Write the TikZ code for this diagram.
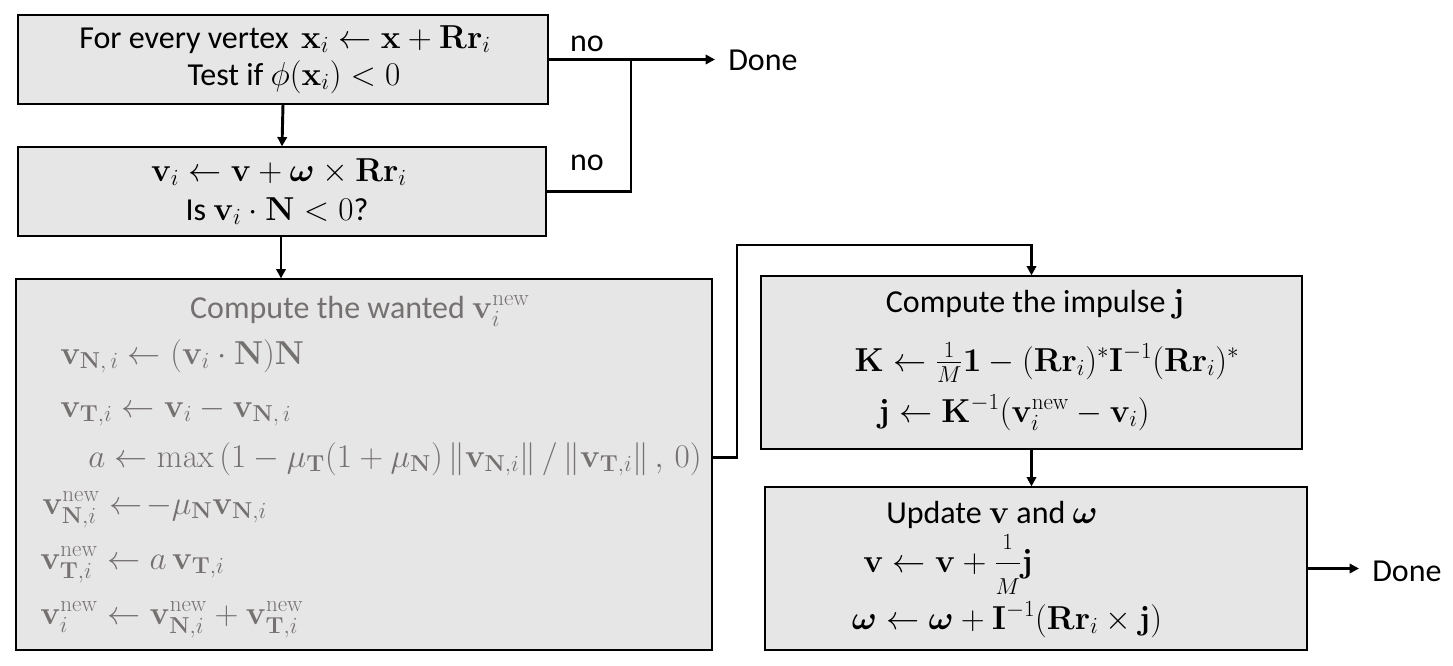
\documentclass[tikz,border=0pt]{standalone}
\usepackage{amsmath,bm}
\usepackage[no-math]{fontspec}
\setmainfont{Carlito}
\DeclareMathSizes{24}{25.5}{18.5}{14}
\DeclareMathSizes{22.5}{24}{17.5}{13}
\DeclareMathSizes{21.5}{23}{17}{12.5}
\usetikzlibrary{arrows.meta,calc}
\definecolor{boxfill}{HTML}{E7E6E6}
\definecolor{graytext}{HTML}{767171}
\begin{document}
\begin{tikzpicture}[x=0.75pt,y=-0.75pt,
  font=\fontsize{24}{28}\selectfont,
  box/.style={draw=black,line width=0.9pt,fill=boxfill,inner sep=0pt},
  txt/.style={inner sep=0pt,anchor=base west},
  ctxt/.style={inner sep=0pt,anchor=base},
  conn/.style={line width=2.2pt},
  arr/.style={line width=2.2pt,-{Triangle[length=7pt,width=7pt]}},
  lbl/.style={inner sep=0pt}]
\useasboundingbox (0,0) rectangle (1453,665);
% boxes
\node[box,minimum width={530*0.75pt},minimum height={89*0.75pt}] (b1) at (283,59.5) {};
\node[box,minimum width={528*0.75pt},minimum height={89*0.75pt}] (b2) at (282,191.5) {};
\node[box,minimum width={696*0.75pt},minimum height={371*0.75pt}] (b3) at (364,464.5) {};
\node[box,minimum width={541*0.75pt},minimum height={173*0.75pt}] (b4) at (1031.5,362.5) {};
\node[box,minimum width={542*0.75pt},minimum height={163*0.75pt}] (b5) at (1036,568.5) {};
% box 1 text
\node[ctxt] (t11) at (285,48) {For every vertex\, $\mathbf{x}_i \leftarrow \mathbf{x}+\mathbf{Rr}_i$};
\node[ctxt] (t12) at (294,85) {Test if $\phi(\mathbf{x}_i) < 0$};
% box 2 text
\node[ctxt] (t21) at (279,181) {$\mathbf{v}_i \leftarrow \mathbf{v}+\bm{\omega}\times\mathbf{Rr}_i$};
\node[ctxt] (t22) at (277,220) {Is $\mathbf{v}_i\cdot\mathbf{N} < 0$?};
% box 3 text
\begin{scope}[every node/.append style={text=graytext}]
\node[ctxt] (t30) at (360,318) {Compute the wanted $\mathbf{v}_i^{\mathrm{new}}$};
\node[txt] (t31) at (60,364) {$\mathbf{v}_{\mathbf{N},\,i} \leftarrow (\mathbf{v}_i\cdot\mathbf{N})\mathbf{N}$};
\node[txt] (t32) at (60,417) {$\mathbf{v}_{\mathbf{T},i} \leftarrow \mathbf{v}_i - \mathbf{v}_{\mathbf{N},\,i}$};
\node[txt,font=\fontsize{22.5}{27}\selectfont] (t33) at (88,467) {$a \leftarrow \max\left(1-\mu_{\mathbf{T}}(1+\mu_{\mathbf{N}})\left\|\mathbf{v}_{\mathbf{N},i}\right\|/\left\|\mathbf{v}_{\mathbf{T},i}\right\|,\,0\right)$};
\node[txt] (t34) at (42,514) {$\mathbf{v}_{\mathbf{N},i}^{\mathrm{new}} \leftarrow\!- \mu_{\mathbf{N}}\mathbf{v}_{\mathbf{N},i}$};
\node[txt] (t35) at (40,569) {$\mathbf{v}_{\mathbf{T},i}^{\mathrm{new}} \leftarrow a\,\mathbf{v}_{\mathbf{T},i}$};
\node[txt] (t36) at (40,624) {$\mathbf{v}_{i}^{\mathrm{new}} \leftarrow \mathbf{v}_{\mathbf{N},i}^{\mathrm{new}}+\mathbf{v}_{\mathbf{T},i}^{\mathrm{new}}$};
\end{scope}
% box 4 text
\node[ctxt] (t40) at (1035,312) {Compute the impulse $\mathbf{j}$};
\node[ctxt,font=\fontsize{21.5}{26}\selectfont] (t41) at (1047,371) {$\mathbf{K} \leftarrow \tfrac{1}{M}\mathbf{1} - (\mathbf{Rr}_i)^{*}\mathbf{I}^{-1}(\mathbf{Rr}_i)^{*}$};
\node[ctxt] (t42) at (1014,422) {$\mathbf{j} \leftarrow \mathbf{K}^{-1}(\mathbf{v}_i^{\mathrm{new}} - \mathbf{v}_i)$};
% box 5 text
\node[ctxt] (t50) at (992,523) {Update $\mathbf{v}$ and $\bm{\omega}$};
\node[ctxt] (t51) at (948,572) {$\mathbf{v} \leftarrow \mathbf{v}+\genfrac{}{}{}{0}{\scriptstyle 1}{\scriptstyle M}\mathbf{j}$};
\node[ctxt] (t52) at (1007,629) {$\bm{\omega} \leftarrow \bm{\omega}+\mathbf{I}^{-1}(\mathbf{Rr}_i\times\mathbf{j})$};
% outside labels
\node[lbl,anchor=west] (done1) at (728,60) {Done};
\node[lbl,anchor=west] (done2) at (1372,571) {Done};
\node[lbl] (no1) at (587,44) {no};
\node[lbl] (no2) at (587,163) {no};
% connectors
\coordinate (j1) at (631,59.5);
\coordinate (k1) at (737,245);
\coordinate (e1) at (715,59.5);
\coordinate (e2) at (1359,568.5);
\draw[arr] (b1.east) -- (e1);
\draw[conn] (b2.east) -| (j1);
\draw[arr] (b1.south) -- (b2.north);
\draw[arr] (b2.south -| 281,0) -- (b3.north -| 281,0);
\draw[arr] ([yshift=5.25pt]b3.east) -| (k1) -| (b4.north);
\draw[arr] (b4.south) -- (b4.south |- b5.north);
\draw[arr] (b5.east) -- (e2);
\end{tikzpicture}
\end{document}
